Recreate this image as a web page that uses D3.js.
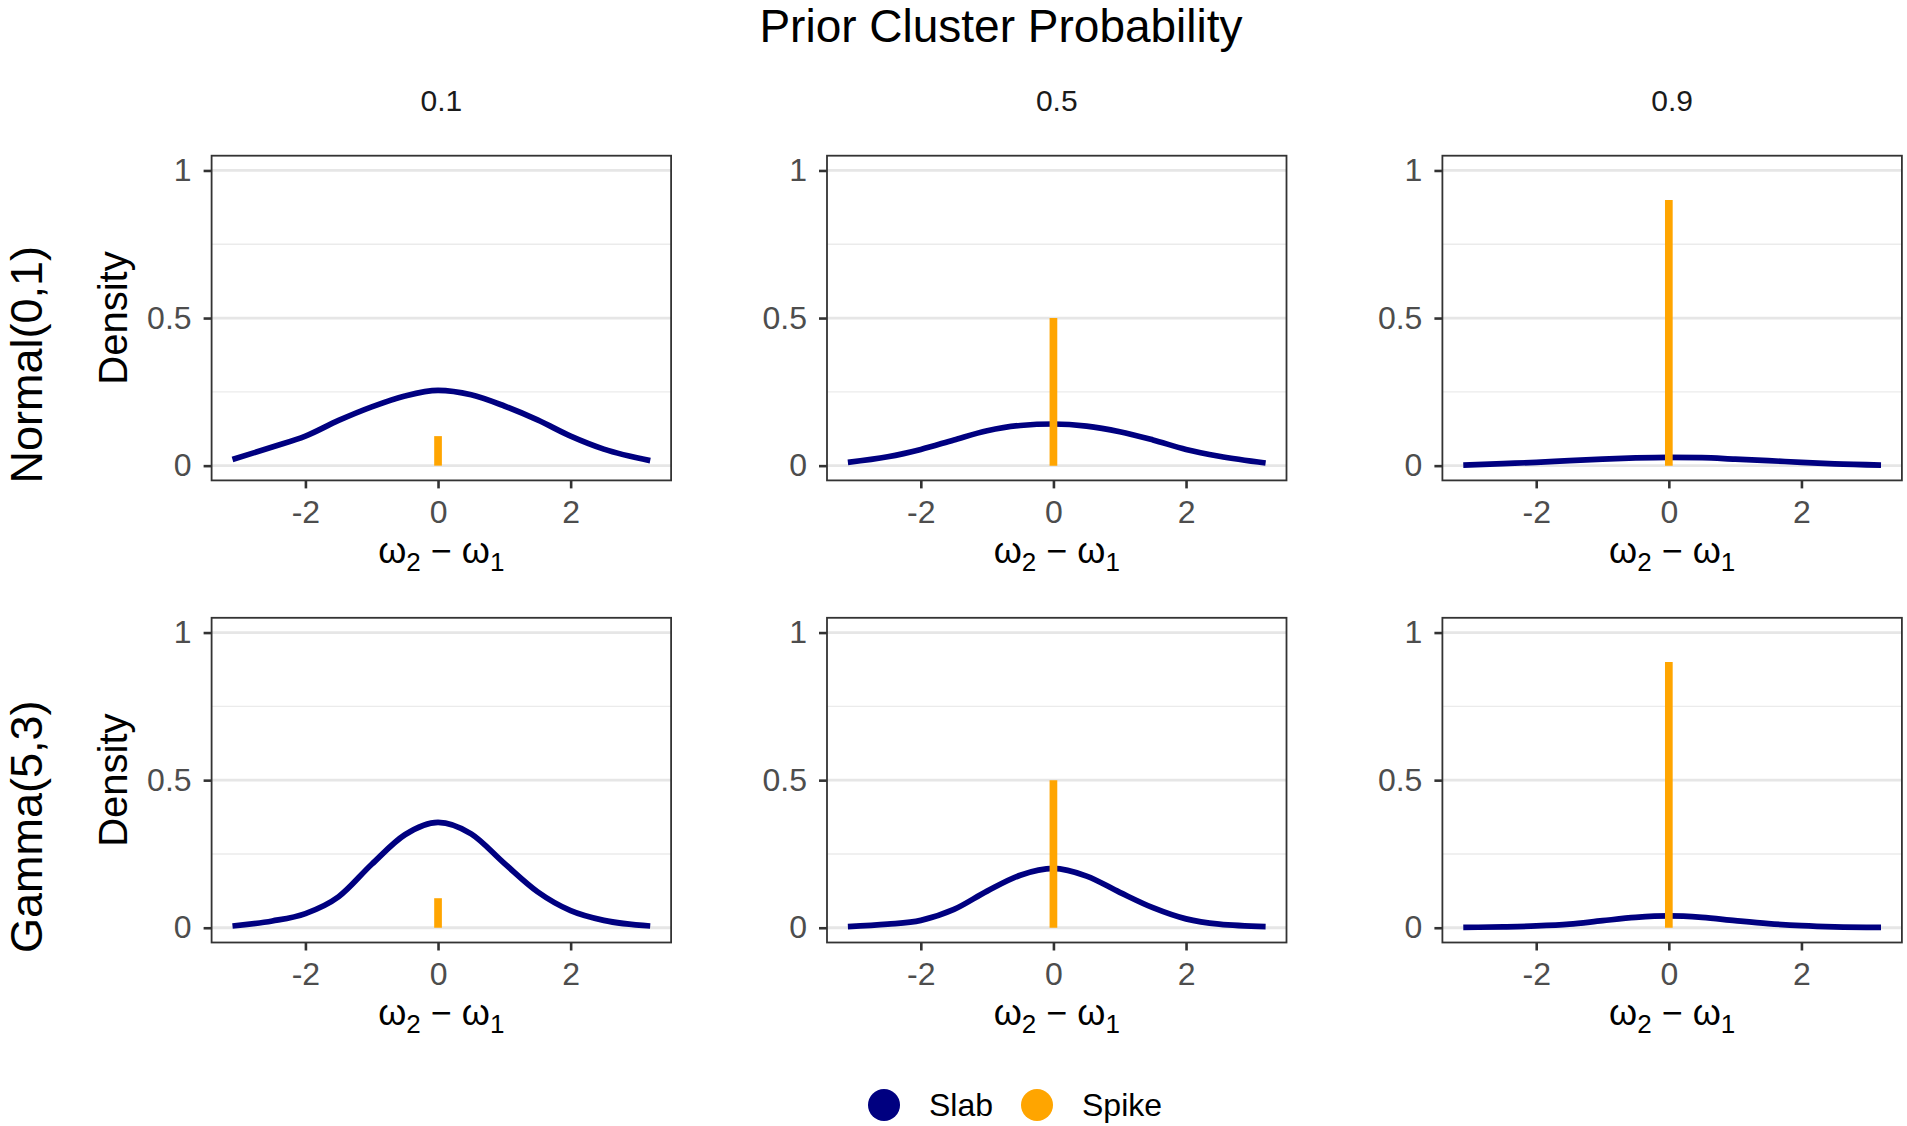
<!DOCTYPE html>
<html>
<head>
<meta charset="utf-8">
<script src="https://cdn.jsdelivr.net/npm/d3@7"></script>
<style>
  body { margin: 0; background: #fff; }
  text { font-family: "Liberation Sans", Arial, Helvetica, sans-serif; }
</style>
</head>
<body>
<div id="vis"></div>
<script>
// facets
const priorLabels = ["0.1", "0.5", "0.9"];
const spikeHeights = [0.1, 0.5, 0.9];
const slabLabels = ["Normal(0,1)", "Gamma(5,3)"];

// x grid shared by every slab curve
const gridX = [-3.1, -2.5, -2, -1.5, -1, -0.5, 0, 0.5, 1, 1.5, 2, 2.5, 3.2];

// slab densities, one array per panel
const normalP01 = [0.021, 0.063, 0.100, 0.153, 0.199, 0.236, 0.255, 0.240, 0.202, 0.155, 0.100, 0.056, 0.017];
const normalP05 = [0.011, 0.030, 0.055, 0.087, 0.118, 0.136, 0.141, 0.134, 0.115, 0.087, 0.055, 0.032, 0.009];
const normalP09 = [0.002, 0.007, 0.011, 0.017, 0.022, 0.026, 0.028, 0.027, 0.022, 0.017, 0.011, 0.006, 0.002];
const gammaP01 = [0.006, 0.023, 0.048, 0.105, 0.215, 0.315, 0.357, 0.318, 0.218, 0.122, 0.058, 0.025, 0.006];
const gammaP05 = [0.004, 0.012, 0.025, 0.062, 0.124, 0.178, 0.201, 0.175, 0.120, 0.068, 0.030, 0.012, 0.004];
const gammaP09 = [0.001, 0.003, 0.006, 0.012, 0.024, 0.035, 0.040, 0.035, 0.024, 0.014, 0.007, 0.003, 0.001];

const slabRows = [[normalP01, normalP05, normalP09], [gammaP01, gammaP05, gammaP09]];

const xTicks = [-2, 0, 2];
const yTicks = [0, 0.5, 1];
const yMinor = [0.25, 0.75];

const legendKeys = ["Slab", "Spike"];
const colors = { Slab: "#000080", Spike: "#FFA500" };

const W = 1907, H = 1126;
const svg = d3.select("#vis").append("svg")
	.attr("width", W)
	.attr("height", H);

const panelW = 459.5, panelH = 324.7;
const colLeft = [211.6, 827, 1442.4];
const rowTop = [155.7, 617.8];

const x = d3.scaleLinear().domain([-3.415, 3.515]).range([0, panelW]);
const y = d3.scaleLinear().domain([-0.05, 1.05]).range([panelH, 0]);

const slabLine = d3.line()
	.x(d => x(d[0]))
	.y(d => y(d[1]))
	.curve(d3.curveMonotoneX);

// title
svg.append("text")
	.attr("x", 1001).attr("y", 42)
	.attr("text-anchor", "middle")
	.attr("font-size", 46)
	.text("Prior Cluster Probability");

// column strips
priorLabels.forEach((lab, c) => {
	svg.append("text")
		.attr("x", colLeft[c] + panelW / 2).attr("y", 111)
		.attr("text-anchor", "middle")
		.attr("font-size", 30)
		.attr("fill", "#1a1a1a")
		.text(lab);
});

slabRows.forEach((row, r) => {
	// row label
	svg.append("text")
		.attr("transform", `translate(42,${rowTop[r] + 209}) rotate(-90)`)
		.attr("text-anchor", "middle")
		.attr("font-size", 45)
		.text(slabLabels[r]);

	// y axis title (first column only)
	svg.append("text")
		.attr("transform", `translate(127,${rowTop[r] + panelH / 2}) rotate(-90)`)
		.attr("text-anchor", "middle")
		.attr("font-size", 40)
		.text("Density");

	row.forEach((vals, c) => {
		const g = svg.append("g")
			.attr("transform", `translate(${colLeft[c]},${rowTop[r]})`);

		// grid
		g.selectAll(".minor").data(yMinor).enter().append("line")
			.attr("x1", 0).attr("x2", panelW)
			.attr("y1", d => y(d)).attr("y2", d => y(d))
			.attr("stroke", "#ebebeb").attr("stroke-width", 1.4);
		g.selectAll(".major").data(yTicks).enter().append("line")
			.attr("x1", 0).attr("x2", panelW)
			.attr("y1", d => y(d)).attr("y2", d => y(d))
			.attr("stroke", "#e6e6e6").attr("stroke-width", 2.8);

		// slab
		g.append("path")
			.datum(gridX.map((xv, i) => [xv, vals[i]]))
			.attr("d", slabLine)
			.attr("fill", "none")
			.attr("stroke", colors.Slab)
			.attr("stroke-width", 5.7)
			.attr("stroke-linejoin", "round");

		// spike
		g.append("line")
			.attr("x1", x(0)).attr("x2", x(0))
			.attr("y1", y(0)).attr("y2", y(spikeHeights[c]))
			.attr("stroke", colors.Spike)
			.attr("stroke-width", 7.7);

		// axes
		const ya = g.append("g").call(d3.axisLeft(y).tickValues(yTicks)
			.tickFormat(d3.format("~g")).tickSize(8).tickPadding(12));
		const xa = g.append("g").attr("transform", `translate(0,${panelH})`)
			.call(d3.axisBottom(x).tickValues(xTicks)
				.tickFormat(d => d < 0 ? "-" + Math.abs(d) : d).tickSize(8).tickPadding(12));
		[ya, xa].forEach(a => {
			a.select(".domain").remove();
			a.selectAll(".tick line").attr("stroke", "#333333").attr("stroke-width", 2.6);
			a.selectAll(".tick text").attr("fill", "#4d4d4d")
				.attr("font-size", 32)
				.attr("font-family", "'Liberation Sans', Arial, sans-serif");
		});

		// border
		g.append("rect")
			.attr("width", panelW).attr("height", panelH)
			.attr("fill", "none")
			.attr("stroke", "#333333")
			.attr("stroke-width", 1.8);

		// x axis title
		const t = g.append("text")
			.attr("x", panelW / 2).attr("y", panelH + 83)
			.attr("text-anchor", "middle")
			.attr("font-size", 36);
		t.append("tspan").text("ω");
		t.append("tspan").attr("font-size", 26).attr("dy", 8).text("2");
		t.append("tspan").attr("dy", -8).text(" − ω");
		t.append("tspan").attr("font-size", 26).attr("dy", 8).text("1");
	});
});

// legend
const legendX = [884, 1037];
legendKeys.forEach((k, i) => {
	svg.append("circle")
		.attr("cx", legendX[i]).attr("cy", 1105)
		.attr("r", 16)
		.attr("fill", colors[k]);
	svg.append("text")
		.attr("x", legendX[i] + 45).attr("y", 1116)
		.attr("font-size", 32)
		.text(k);
});
</script>
</body>
</html>
